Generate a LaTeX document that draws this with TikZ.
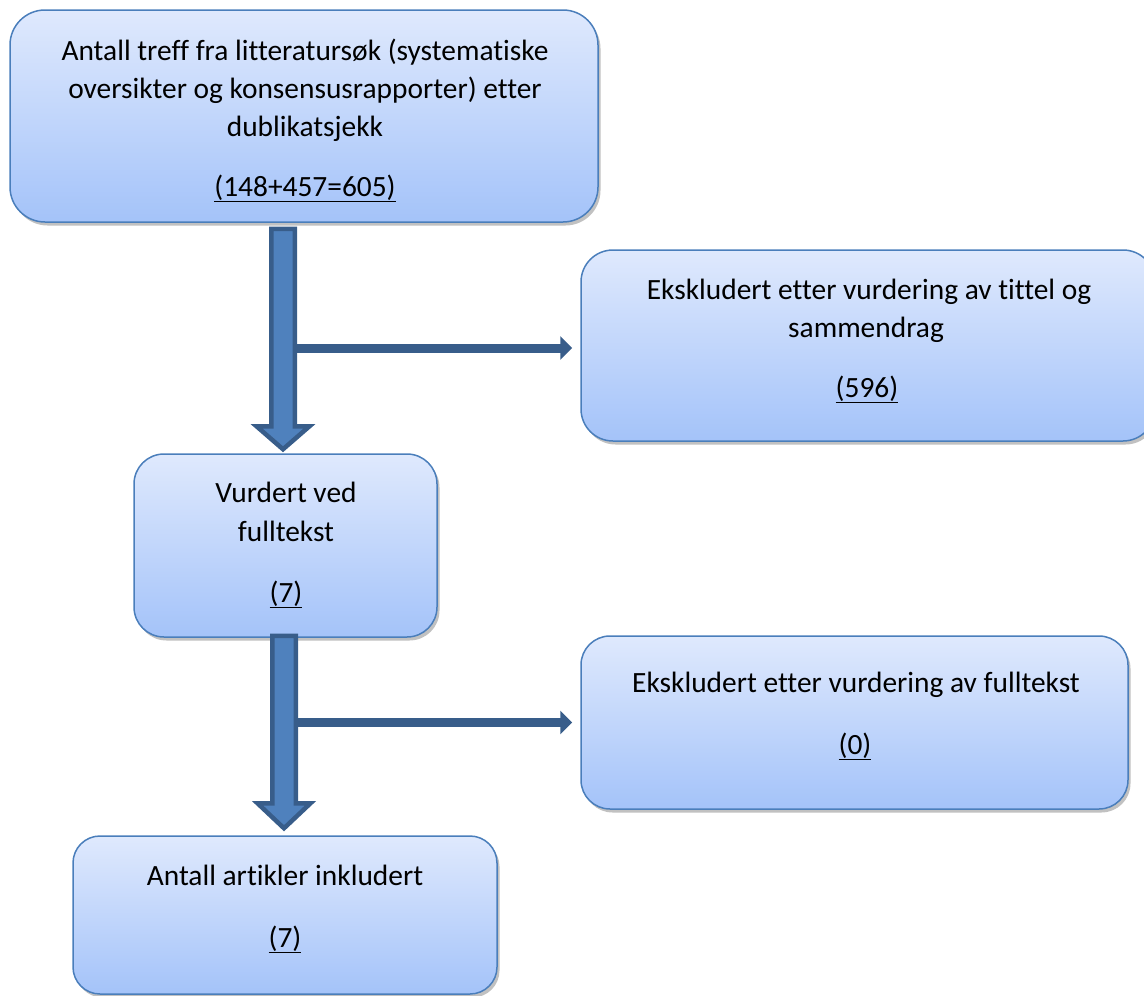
\documentclass[tikz,border=0pt]{standalone}
\usepackage{fontspec}
\setmainfont{Carlito}[Ligatures=NoCommon]
\usetikzlibrary{shadows,calc,arrows.meta}
\definecolor{boxtop}{RGB}{223,233,253}
\definecolor{boxbot}{RGB}{164,195,249}
\definecolor{boxline}{RGB}{74,126,187}
\definecolor{arrowfill}{RGB}{79,129,189}
\definecolor{arrowline}{RGB}{56,93,138}
\newcommand\flowarrow[4]{%
  \path[bigarrow] let \p1=(#1), \p2=(#2) in
    (\x1-11.75pt,\y1) -- (\x1-11.75pt,\y2+#3) -- (\x1-26.5pt,\y2+#3)
    -- (\x1,\y2+#4) -- (\x1+26.5pt,\y2+#3) -- (\x1+11.75pt,\y2+#3)
    -- (\x1+11.75pt,\y1) -- cycle;}
\newcommand\ulnum[1]{\underline{\smash{#1}\vphantom{(}}}
\tikzset{
  flowbox/.style={rectangle, draw=boxline, line width=1.5pt,
    top color=boxtop, bottom color=boxbot, inner sep=0pt,
    drop shadow={shadow xshift=2.5pt, shadow yshift=-3.5pt, opacity=0.35, fill=black!70}},
  txt/.style={anchor=base, inner sep=0pt, font=\fontsize{29.4}{38}\selectfont},
  bigarrow/.style={fill=arrowfill, draw=arrowline, line width=4.5pt, line join=miter},
  thinarrow/.style={draw=arrowline, line width=9pt,
    -{Triangle[length=12pt,width=23pt]}, shorten >=8pt}
}
\begin{document}
\begin{tikzpicture}[x=1pt,y=-1pt]
\useasboundingbox (0,0) rectangle (1144,996);
\clip (0,0) rectangle (1144,996);

% boxes
\node[flowbox, rounded corners=35pt, minimum width=588pt, minimum height=212pt] (b1) at (304,116) {};
\node[flowbox, rounded corners=32pt, minimum width=574pt, minimum height=191pt] (b2) at (868,345.5) {};
\node[flowbox, rounded corners=30pt, minimum width=303pt, minimum height=183pt] (b3) at (285.5,545.5) {};
\node[flowbox, rounded corners=29pt, minimum width=547pt, minimum height=173pt] (b4) at (854.5,722.5) {};
\node[flowbox, rounded corners=27pt, minimum width=424pt, minimum height=158pt] (b5) at (285,915) {};

% texts
\node[txt] (t1a) at (305,60) {Antall treff fra litteratursøk (systematiske};
\node[txt] (t1b) at (305,98) {oversikter og konsensusrapporter) etter};
\node[txt] (t1c) at (305,136) {dublikatsjekk};
\node[txt] (t1d) at (305,196) {\underline{(148+457=605)}};

\node[txt] (t2a) at (869,299) {Ekskludert etter vurdering av tittel og};
\node[txt] (t2b) at (866,337) {sammendrag};
\node[txt] (t2c) at (867,397) {\underline{(596)}};

\node[txt] (t3a) at (286,502) {Vurdert ved};
\node[txt] (t3b) at (286,541) {fulltekst};
\node[txt] (t3c) at (286,602) {\underline{(7)}};

\node[txt] (t4a) at (856,692) {Ekskludert etter vurdering av fulltekst};
\node[txt] (t4b) at (855,754) {\underline{(0)}};

\node[txt] (t5a) at (285,885) {Antall artikler inkludert};
\node[txt] (t5b) at (285,947) {\underline{(7)}};

% connector coordinates
\coordinate (s1) at ([xshift=-21pt,yshift=-6pt]b1.south);
\coordinate (e1) at ([xshift=-2.5pt]b3.north);
\coordinate (s2) at ([xshift=-1.5pt,yshift=2pt]b3.south);
\coordinate (e2) at ([xshift=-1pt]b5.north);
\coordinate (j1) at ([xshift=12pt,yshift=-2.5pt]s1 |- b2.west);
\coordinate (j2) at ([xshift=12pt]s2 |- b4.west);

% side arrows
\draw[thinarrow] (j1) -- (j1 -| b2.west);
\draw[thinarrow] (j2) -- (j2 -| b4.west);

% main arrows
\flowarrow{s1}{e1}{27pt}{4pt}
\flowarrow{s2}{e2}{32pt}{7pt}
\end{tikzpicture}
\end{document}
